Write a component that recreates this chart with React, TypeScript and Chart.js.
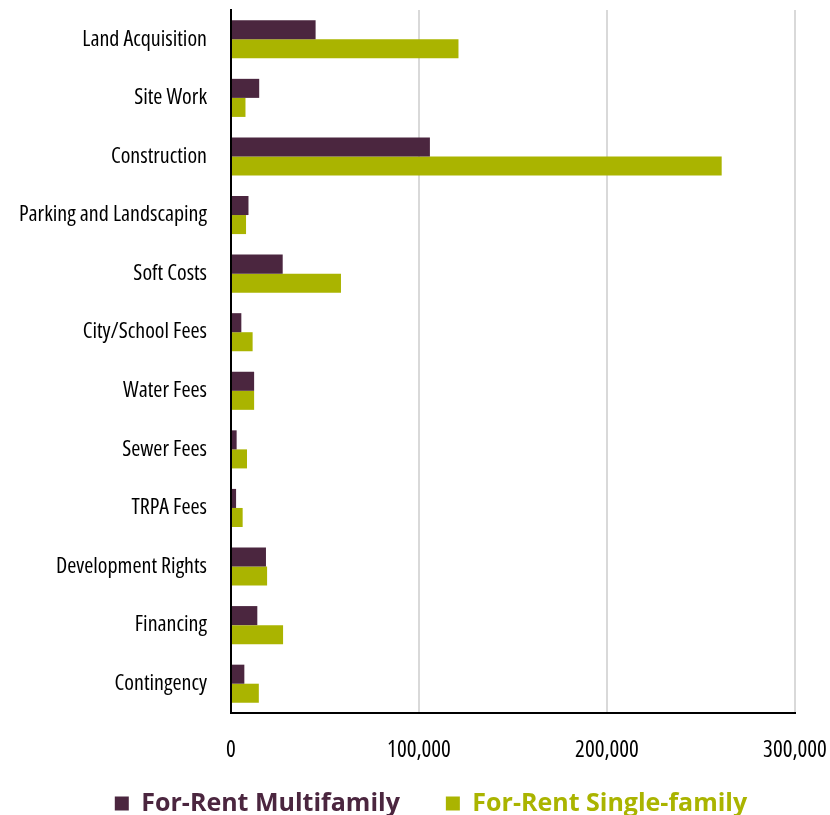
import React, { useEffect, useRef } from "react";
import { Chart, registerables } from "chart.js";

Chart.register(...registerables);

const categories = [
  "Land Acquisition",
  "Site Work",
  "Construction",
  "Parking and Landscaping",
  "Soft Costs",
  "City/School Fees",
  "Water Fees",
  "Sewer Fees",
  "TRPA Fees",
  "Development Rights",
  "Financing",
  "Contingency",
];

const multifamily = [45000, 15000, 105800, 9300, 27500, 5500, 12300, 3000, 2700, 18600, 14000, 7100];
const singleFamily = [121000, 7700, 261000, 8000, 58500, 11500, 12300, 8500, 6200, 19200, 27700, 14800];

const seriesNames = ["For-Rent Multifamily", "For-Rent Single-family"];
const seriesColors = ["#4B263F", "#AAB400"];
const xTicks = [0, 100000, 200000, 300000];

const noClip = (s: any) => {
  s._computeLabelArea = () => undefined;
};

export default function App() {
  const ref = useRef<HTMLCanvasElement>(null);
  useEffect(() => {
    const canvas = ref.current!;
    const chart = new Chart(canvas, {
      type: "bar",
      data: {
        labels: categories,
        datasets: [
          { label: seriesNames[0], data: multifamily, backgroundColor: seriesColors[0] },
          { label: seriesNames[1], data: singleFamily, backgroundColor: seriesColors[1] },
        ],
      },
      options: {
        indexAxis: "y",
        animation: false,
        responsive: false,
        maintainAspectRatio: false,
        datasets: { bar: { categoryPercentage: 0.65, barPercentage: 1 } },
        layout: { padding: { top: 10, right: 0, left: 32, bottom: 0 } },
        plugins: {
          tooltip: { enabled: false },
          legend: {
            position: "bottom",
            labels: {
              boxWidth: 14,
              boxHeight: 14,
              padding: 46,
              font: { family: "'Open Sans', Lato, sans-serif", size: 25, weight: "bold" },
              generateLabels: (c: any) =>
                c.data.datasets.map((d: any, i: number) => ({
                  text: d.label,
                  fillStyle: seriesColors[i],
                  strokeStyle: seriesColors[i],
                  lineWidth: 0,
                  fontColor: seriesColors[i],
                  datasetIndex: i,
                  hidden: false,
                })),
            },
          },
        },
        scales: {
          x: {
            min: 0,
            max: 300000,
            afterBuildTicks: (s: any) => {
              s.ticks = xTicks.map((v) => ({ value: v }));
            },
            afterFit: (s: any) => {
              s.height = 32;
              s.paddingLeft = 0;
              s.paddingRight = 35;
              noClip(s);
            },
            grid: { color: "#d9d9d9", lineWidth: 2, drawTicks: false },
            border: { display: true, color: "#000", width: 2 },
            ticks: {
              color: "#000",
              padding: 24,
              font: { family: "'Open Sans'", size: 23, weight: "condensed" },
              callback: (v: any) => Number(v).toLocaleString("en-US"),
            },
          },
          y: {
            afterFit: (s: any) => {
              s.width = 199;
              s.paddingTop = 0;
              s.paddingBottom = 0;
              noClip(s);
            },
            grid: { display: false, drawTicks: false },
            border: { display: true, color: "#000", width: 2 },
            ticks: {
              color: "#000",
              padding: 24,
              font: { family: "'Open Sans'", size: 22, weight: "condensed" },
            },
          },
        },
      },
    });
    return () => chart.destroy();
  }, []);
  return (
    <div
      style={{
        position: "absolute",
        left: 0,
        top: 0,
        width: 830,
        height: 815,
        overflow: "hidden",
        background: "#fff",
      }}
    >
      <canvas ref={ref} width={830} height={826} style={{ width: 830, height: 826, display: "block" }} />
    </div>
  );
}
